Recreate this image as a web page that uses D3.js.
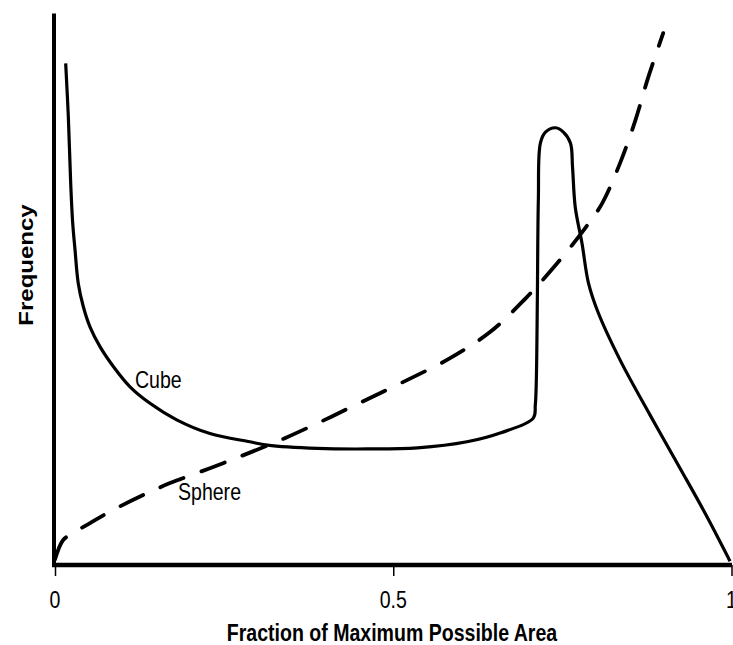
<!DOCTYPE html>
<html>
<head>
<meta charset="utf-8">
<script src="https://cdn.jsdelivr.net/npm/d3@7"></script>
<style>
  html, body { margin: 0; padding: 0; background: #fff; }
  svg { display: block; }
  text { font-family: "Liberation Sans", Arial, sans-serif; fill: #000; }
</style>
</head>
<body>
<svg id="chart" width="733" height="645"></svg>
<script>
// Fraction of maximum possible area (x) vs frequency (arbitrary units, y)
const cubeX = [0.0158, 0.0197, 0.0232, 0.0262, 0.0296, 0.0344, 0.0418, 0.0517, 0.0665, 0.0862, 0.1109, 0.1404, 0.1799, 0.2291, 0.288, 0.314, 0.388, 0.462, 0.536, 0.609, 0.658, 0.707, 0.710, 0.7115, 0.713, 0.7145, 0.7175, 0.725, 0.740, 0.7515, 0.762, 0.765, 0.769, 0.779, 0.7885, 0.8026, 0.8352, 0.8795, 0.9239, 0.9608, 0.9978];
const cubeY = [91.2, 81.5, 69.4, 62.1, 57.3, 51.2, 47.0, 43.3, 39.7, 36.1, 32.4, 29.4, 26.4, 23.9, 22.4, 21.8, 21.2, 21.1, 21.3, 22.4, 24.0, 26.7, 29.1, 33.6, 48.2, 66.4, 76.7, 78.7, 79.5, 78.7, 76.7, 72.4, 65.1, 58.5, 51.3, 46.0, 37.3, 27.3, 17.6, 9.45, 0.7];

const sphereX = [0.0, 0.0118, 0.0266, 0.0473, 0.0858, 0.1405, 0.170, 0.229, 0.271, 0.333, 0.392, 0.451, 0.515, 0.584, 0.6435, 0.695, 0.7426, 0.784, 0.809, 0.836, 0.858, 0.877, 0.899];
const sphereY = [1.0, 4.5, 5.8, 7.3, 10.0, 13.3, 14.9, 17.6, 19.6, 22.7, 26.0, 29.5, 33.3, 37.6, 42.4, 48.4, 54.9, 61.3, 65.8, 73.3, 80.9, 88.7, 96.7];

const xTicks = [0, 0.5, 1];
const xTickLabels = ["0", "0.5", "1"];
const seriesLabels = ["Cube", "Sphere"];
const xTitle = "Fraction of Maximum Possible Area";
const yTitle = "Frequency";

const svg = d3.select("#chart");
const x = d3.scaleLinear().domain([0, 1]).range([55, 731.5]);
const y = d3.scaleLinear().domain([0, 100]).range([565, 15]);
const SX = 0.85; // horizontal condensing of the lettering

function label(px, py, str, size, opts = {}) {
  const rot = opts.rotate ? ` rotate(${opts.rotate})` : "";
  return svg.append("text")
    .attr("transform", `translate(${px},${py}) scale(${SX},1)${rot}`)
    .attr("text-anchor", opts.anchor || "start")
    .attr("font-size", size)
    .attr("font-weight", opts.weight || "normal")
    .text(str);
}

// x axis ticks via d3 axis (lines), labels drawn condensed
const xAxis = d3.axisBottom(x).tickValues(xTicks).tickFormat("").tickSize(11);
const gx = svg.append("g").attr("transform", "translate(0,565)").call(xAxis);
gx.select(".domain").remove();
gx.selectAll(".tick line").attr("stroke", "#000").attr("stroke-width", 1.5);
xTicks.forEach((t, i) => label(x(t), 608, xTickLabels[i], 23, { anchor: "middle" }));

// axis lines
svg.append("line").attr("x1", 52).attr("x2", 732).attr("y1", 565).attr("y2", 565)
  .attr("stroke", "#000").attr("stroke-width", 4.5);
svg.append("line").attr("x1", 54).attr("x2", 54).attr("y1", 13.5).attr("y2", 567)
  .attr("stroke", "#000").attr("stroke-width", 4);

// lines
const cube = cubeX.map((d, i) => [d, cubeY[i]]);
const sphere = sphereX.map((d, i) => [d, sphereY[i]]);
const line = d3.line().x(d => x(d[0])).y(d => y(d[1])).curve(d3.curveCatmullRom.alpha(0.5));

svg.append("path").datum(cube).attr("d", line)
  .attr("fill", "none").attr("stroke", "#000").attr("stroke-width", 3.2)
  .attr("stroke-linejoin", "round");
svg.append("path").datum(sphere).attr("d", line)
  .attr("fill", "none").attr("stroke", "#000").attr("stroke-width", 3.8)
  .attr("stroke-dasharray", "25,19").attr("stroke-linecap", "round");

// series labels
label(135, 388, seriesLabels[0], 23);
label(178, 500, seriesLabels[1], 23);

// titles
label(392, 641, xTitle, 23, { anchor: "middle", weight: "bold" });
label(33, 265, yTitle, 24, { anchor: "middle", weight: "bold", rotate: -90 });
</script>
</body>
</html>
